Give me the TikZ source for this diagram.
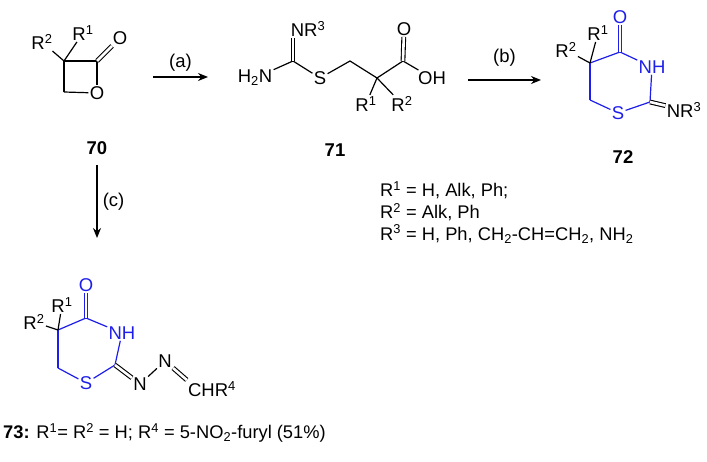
\documentclass[tikz,border=0pt]{standalone}
\usepackage{fontspec}
\setmainfont{Liberation Sans}
\usetikzlibrary{arrows.meta}
\definecolor{ringblue}{RGB}{30,30,235}
\newcommand{\Rg}[1]{R\textsuperscript{#1}}
\tikzset{
  atom/.style={inner sep=1.2pt, font=\fontsize{18.5}{20}\selectfont},
  txt/.style={inner sep=0pt, font=\fontsize{18.3}{20}\selectfont, anchor=west},
  bond/.style={line width=1.2pt},
  dbl/.style={line width=1.1pt, double, double distance=2.6pt},
  rxn/.style={line width=1.2pt, -{Stealth[length=10pt,width=8pt]}},
  num/.style={font=\fontsize{18.5}{20}\selectfont\bfseries}
}
\begin{document}
\begin{tikzpicture}[x=1pt,y=-1pt]
  \useasboundingbox (0,0) rectangle (707,462);
  % 70
  \coordinate (q3) at (64,61);
  \coordinate (q2) at (97,61);
  \coordinate (q4) at (64,92);
  \node[atom] (o1) at (97,93) {O};
  \node[atom] (o2) at (120,38) {O};
  \node[atom] (r2a) at (42,42) {\Rg{2}};
  \node[atom] (r1a) at (83,33) {\Rg{1}};
  \draw[bond] (q4) -- (q3) -- (q2);
  \draw[bond] (q2) -- (o1);
  \draw[bond] (o1) -- (q4);
  \draw[dbl] (q2) -- (o2);
  \draw[bond] (q3) -- (r2a);
  \draw[bond] (q3) -- (r1a);
  \node[num] (n70) at (97,148) {70};
  % arrow (a)
  \coordinate (a1) at (153,77);
  \coordinate (a2) at (208,77);
  \draw[rxn] (a1) -- (a2) node[midway,above=4pt,atom] {(a)};
  % 71
  \node[atom] (nh2) at (255,78) {H\textsubscript{2}N};
  \coordinate (ci) at (293,61);
  \node[atom] (nr3a) at (308,29) {N\Rg{3}};
  \node[atom] (s71) at (320,78) {S};
  \coordinate (ch2) at (350,61);
  \coordinate (cq) at (377,78);
  \node[atom] (r1b) at (366,104) {\Rg{1}};
  \node[atom] (r2b) at (402,104) {\Rg{2}};
  \coordinate (cc) at (403,61);
  \node[atom] (o71) at (404,29) {O};
  \node[atom] (oh) at (432,78) {OH};
  \draw[bond] (nh2) -- (ci);
  \draw[bond] (ci) -- (s71);
  \draw[bond] (s71) -- (ch2) -- (cq) -- (cc);
  \draw[bond] (cc) -- (oh);
  \draw[dbl] (ci) -- (ci |- nr3a.south);
  \draw[dbl] (cc) -- (o71);
  \draw[bond] (cq) -- (r1b);
  \draw[bond] (cq) -- (r2b);
  \node[num] (n71) at (335,150) {71};
  % arrow (b)
  \coordinate (b1) at (468,80);
  \coordinate (b2) at (541,80);
  \draw[rxn] (b1) -- (b2) node[midway,above=12pt,atom] {(b)};
  % 72
  \begin{scope}[ringblue]
    \coordinate (k5) at (590,63);
    \coordinate (k4) at (620,52);
    \coordinate (k2) at (650,102);
    \coordinate (k6) at (590,100);
    \node[atom] (ok) at (620,17) {O};
    \node[atom] (nhk) at (652,67) {NH};
    \node[atom] (sk) at (618,113) {S};
    \draw[bond] (k5) -- (k4);
    \draw[bond] (k4) -- (nhk);
    \draw[bond] (nhk) -- (k2);
    \draw[bond] (k2) -- (sk);
    \draw[bond] (sk) -- (k6);
    \draw[bond] (k6) -- (k5);
    \draw[dbl] (k4) -- (ok);
  \end{scope}
  \node[atom] (nr3k) at (684,110) {N\Rg{3}};
  \node[atom] (r1k) at (598,33) {\Rg{1}};
  \node[atom] (r2k) at (566,50) {\Rg{2}};
  \draw[dbl] (k2) -- (nr3k);
  \draw[bond] (k5) -- (r1k);
  \draw[bond] (k5) -- (r2k);
  \node[num] (n72) at (623,157) {72};
  % legend
  \node[txt] (l1) at (380,190) {\Rg{1} = H, Alk, Ph;};
  \node[txt] (l2) at (380,212) {\Rg{2} = Alk, Ph};
  \node[txt] (l3) at (380,234) {\Rg{3} = H, Ph, CH\textsubscript{2}-CH=CH\textsubscript{2}, NH\textsubscript{2}};
  % arrow (c)
  \coordinate (v1) at (97,165);
  \coordinate (v2) at (97,238);
  \draw[rxn] (v1) -- (v2) node[midway,right=4pt,atom] {(c)};
  % 73
  \begin{scope}[ringblue]
    \coordinate (m5) at (58,330);
    \coordinate (m4) at (86,318);
    \coordinate (m2) at (115,365);
    \coordinate (m6) at (58,368);
    \node[atom] (om) at (86,285) {O};
    \node[atom] (nhm) at (122,333) {NH};
    \node[atom] (sm) at (86,383) {S};
    \draw[bond] (m5) -- (m4);
    \draw[bond] (m4) -- (nhm);
    \draw[bond] (nhm) -- (m2);
    \draw[bond] (m2) -- (sm);
    \draw[bond] (sm) -- (m6);
    \draw[bond] (m6) -- (m5);
    \draw[dbl] (m4) -- (om);
  \end{scope}
  \node[atom] (na) at (140,384) {N};
  \node[atom] (nb) at (165,361) {N};
  \node[atom] (chr) at (212,389) {CH\Rg{4}};
  \node[atom] (r1m) at (62,305) {\Rg{1}};
  \node[atom] (r2m) at (34,322) {\Rg{2}};
  \draw[dbl] (m2) -- (na);
  \draw[bond] (na) -- (nb);
  \draw[dbl] (nb) -- (chr.north west);
  \draw[bond] (m5) -- (r1m);
  \draw[bond] (m5) -- (r2m);
  \node[txt] (cap) at (3,433) {\textbf{73:} \Rg{1}= \Rg{2} = H; \Rg{4} = 5-NO\textsubscript{2}-furyl (51\%)};
\end{tikzpicture}
\end{document}
